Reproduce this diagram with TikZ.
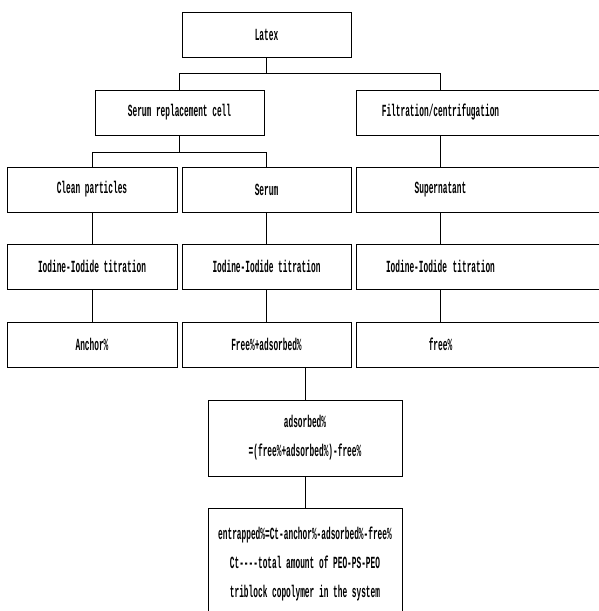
\documentclass[tikz,border=0pt]{standalone}
\usepackage{fontspec}
\newfontfamily\boxfont[FakeStretch=0.46]{Liberation Mono}
\usepackage{tikz}
\tikzstyle{box}=[draw, line width=1pt, minimum width=169pt, minimum height=45pt, inner sep=0pt, align=center, font=\boxfont\bfseries\fontsize{17}{29}\selectfont]
\tikzstyle{rbox}=[box, text width=270pt, align=left]
\tikzstyle{link}=[line width=1pt]

\begin{document}
\begin{tikzpicture}[x=1pt, y=-1pt]
 \useasboundingbox (0,0) rectangle (599,611);
 \clip (0,0) rectangle (599,611);

 \node[box] (latex) at (266.5,34.5) {Latex};
 \node[box] (src) at (179.5,112.5) {Serum replacement cell};
 \node[rbox] (filt) at (491,112.5) {\makebox[169pt]{Filtration/centrifugation}};

 \node[box, minimum width=170pt] (clean) at (92,189.5) {Clean particles};
 \node[box] (serum) at (266.5,189.5) {Serum};
 \node[rbox] (super) at (491,189.5) {\makebox[169pt]{Supernatant}};

 \node[box, minimum width=170pt] (tit1) at (92,266.5) {Iodine-Iodide titration};
 \node[box] (tit2) at (266.5,266.5) {Iodine-Iodide titration};
 \node[rbox] (tit3) at (491,266.5) {\makebox[169pt]{Iodine-Iodide titration}};

 \node[box, minimum width=170pt] (anchor) at (92,344.5) {Anchor\%};
 \node[box] (freeads) at (266.5,344.5) {Free\%+adsorbed\%};
 \node[rbox] (free) at (491,344.5) {\makebox[169pt]{free\%}};

 \node[box, minimum width=194pt, minimum height=76pt] (adsorbed) at (305,438) {adsorbed\%\\=(free\%+adsorbed\%)-free\%};
 \node[box, minimum width=194pt, minimum height=112pt] (entrapped) at (305,564)
   {entrapped\%=Ct-anchor\%-adsorbed\%-free\%\\Ct----total amount of PEO-PS-PEO\\triblock copolymer in the system};

 % connectors
 \draw[link] (latex.south) -- ++(0,16) coordinate (j1);
 \draw[link] (j1) -| (src.north);
 \draw[link] (j1) -| ([xshift=85pt]filt.north west);
 \draw[link] (src.south) -- ++(0,17) coordinate (j2);
 \draw[link] (j2) -| (clean.north);
 \draw[link] (j2) -| (serum.north);
 \foreach \a/\b in {clean/tit1, tit1/anchor, serum/tit2, tit2/freeads, adsorbed/entrapped}
   \draw[link] (\a) -- (\b);
 \foreach \a/\b in {filt/super, super/tit3, tit3/free}
   \draw[link] ([xshift=85pt]\a.south west) -- ([xshift=85pt]\b.north west);
 \draw[link] (adsorbed.north |- freeads.south) -- (adsorbed);

\end{tikzpicture}
\end{document}
